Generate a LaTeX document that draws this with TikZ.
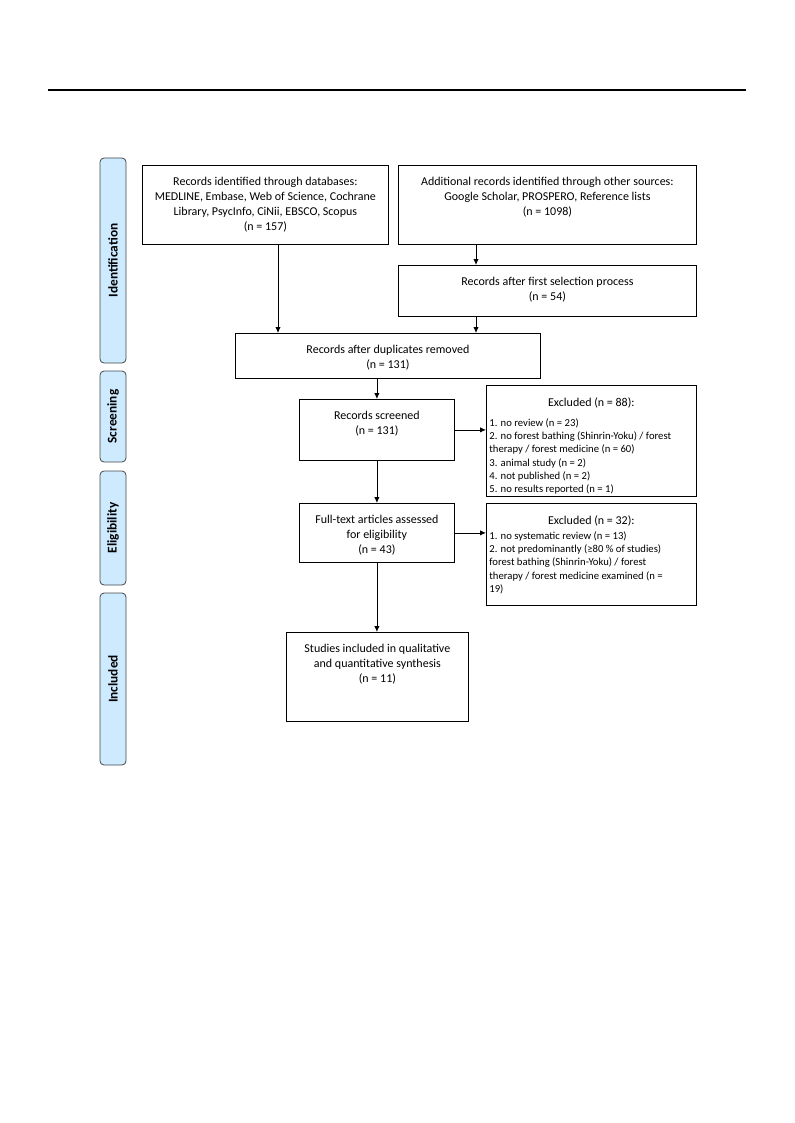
\documentclass[tikz,border=0pt]{standalone}
\usepackage{fontspec}
\setmainfont{Carlito}
\usetikzlibrary{arrows.meta}
\definecolor{phasefill}{RGB}{205,234,255}
\definecolor{phasedraw}{RGB}{70,70,70}
\newcommand\boxtext[3]{\parbox[c][#2][t]{#1}{\centering\rule{0pt}{15.3pt}#3\par}}
\begin{document}
\begin{tikzpicture}[x=0.75pt,y=-0.75pt,
  box/.style={draw,line width=0.6pt,inner sep=0pt,anchor=north west,font=\fontsize{9pt}{11.25pt}\selectfont},
  exbox/.style={draw,line width=0.6pt,inner ysep=0pt,inner xsep=2.25pt,anchor=north west,font=\fontsize{9pt}{11.25pt}\selectfont},
  phase/.style={draw=phasedraw,fill=phasefill,line width=0.6pt,rounded corners=3pt,rotate=90,minimum height=19.5pt,inner sep=0pt,font=\fontsize{10pt}{12pt}\selectfont\bfseries},
  arr/.style={-{Latex[length=4.5pt,width=4pt]},line width=0.6pt}]
\useasboundingbox (0,0) rectangle (794,1123);
\coordinate (r1) at (48,90);
\coordinate (r2) at (746,90);
\draw[line width=0.9pt] (r1) -- (r2);

% phase bars
\node[phase,minimum width=153.75pt] (pid) at (113,260.5) {Identification};
\node[phase,minimum width=68.25pt] (psc) at (113,416.5) {Screening};
\node[phase,minimum width=85.5pt] (pel) at (113,528) {Eligibility};
\node[phase,minimum width=129pt] (pin) at (113,679) {Included};

% boxes
\node[box] (b1) at (142,165) {\boxtext{184.5pt}{59.25pt}{Records identified through databases:\\MEDLINE, Embase, Web of Science, Cochrane\\Library, PsycInfo, CiNii, EBSCO, Scopus\\(n = 157)}};
\node[box] (b2) at (398,165) {\boxtext{223.5pt}{59.25pt}{Additional records identified through other sources:\\Google Scholar, PROSPERO, Reference lists\\(n = 1098)}};
\node[box] (b3) at (398,265) {\boxtext{223.5pt}{38.25pt}{Records after first selection process\\(n = 54)}};
\node[box] (b4) at (235,333) {\boxtext{228.75pt}{33.75pt}{Records after duplicates removed\\(n = 131)}};
\node[box] (b5) at (299,399) {\boxtext{116.25pt}{45.75pt}{Records screened\\(n = 131)}};
\node[box] (b6) at (299,503) {\boxtext{116.25pt}{44.25pt}{Full-text articles assessed\\for eligibility\\(n = 43)}};
\node[box] (b7) at (286,632) {\boxtext{136.5pt}{66.75pt}{Studies included in qualitative\\and quantitative synthesis\\(n = 11)}};

\node[exbox] (e1) at (486,385) {\parbox[c][83.25pt][t]{153pt}{\centering\rule{0pt}{16pt}Excluded (n = 88):\par\vspace{4.5pt}\raggedright\fontsize{8pt}{10pt}\selectfont
1. no review (n = 23)\\
2. no forest bathing (Shinrin-Yoku) / forest\\
therapy / forest medicine (n = 60)\\
3. animal study (n = 2)\\
4. not published (n = 2)\\
5. no results reported (n = 1)\par}};
\node[exbox] (e2) at (486,503) {\parbox[c][76.5pt][t]{153pt}{\centering\rule{0pt}{16pt}Excluded (n = 32):\par\vspace{0.8pt}\raggedright\fontsize{8pt}{10pt}\selectfont
1. no systematic review (n = 13)\\
2. not predominantly (≥80 \% of studies)\\
forest bathing (Shinrin-Yoku) / forest\\
therapy / forest medicine examined (n =\\
19)\par}};

% connectors
\coordinate (c1) at (278,0);
\coordinate (c2) at (476,0);
\draw[arr] (b1.south -| c1) -- (b4.north -| c1);
\draw[arr] (b2.south -| c2) -- (b3.north -| c2);
\draw[arr] (b3.south -| c2) -- (b4.north -| c2);
\draw[arr] (b4.south -| b5.north) -- (b5.north);
\draw[arr] (b5.south) -- (b6.north);
\draw[arr] (b6.south) -- (b6.south |- b7.north);
\draw[arr] (b5.east) -- (b5.east -| e1.west);
\draw[arr] (b6.east) -- (b6.east -| e2.west);
\end{tikzpicture}
\end{document}
